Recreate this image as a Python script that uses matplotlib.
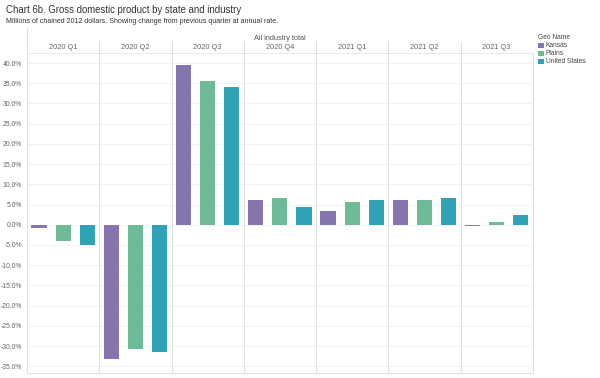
import matplotlib.pyplot as plt
import numpy as np

plt.rcParams['font.family'] = ['Liberation Sans', 'DejaVu Sans']

quarters = ["2020 Q1", "2020 Q2", "2020 Q3", "2020 Q4", "2021 Q1", "2021 Q2", "2021 Q3"]
geos = ["Kansas", "Plains", "United States"]
kansas = [-0.8, -33.2, 39.5, 6.1, 3.5, 6.0, -0.3]
plains = [-4.0, -30.8, 35.6, 6.7, 5.7, 6.1, 0.7]
us = [-5.1, -31.5, 34.1, 4.5, 6.2, 6.7, 2.3]
colors = ["#8475ae", "#6dba97", "#2fa2b4"]
yticks = list(range(-35, 41, 5))

fig = plt.figure(figsize=(6, 3.78), dpi=100)
ax = fig.add_axes([0.045, 0.013, 0.843, 0.847])

n = len(quarters)
x = np.arange(n)
offsets = [1/6, 1/2, 5/6]
for vals, off, c, g in zip([kansas, plains, us], offsets, colors, geos):
    ax.bar(x + off, vals, width=0.21, color=c, label=g, zorder=3)

ax.set_xlim(0, n)
ax.set_ylim(-36.7, 42.5)
ax.set_yticks(yticks)
ax.set_yticklabels([f"{t:.1f}%" for t in yticks], fontsize=4.9, color="#666666")
ax.set_xticks([])
ax.tick_params(axis='y', length=0, pad=3.5)
ax.grid(axis='y', color="#f0f0f0", linewidth=0.6, zorder=0)
for i in range(1, n):
    ax.axvline(i, color="#e0e0e0", linewidth=0.7, zorder=1)
ax.spines["top"].set_visible(False)
for s in ["left", "bottom", "right"]:
    ax.spines[s].set_color("#e0e0e0")
    ax.spines[s].set_linewidth(0.7)

# header band
xt = ax.get_xaxis_transform()
for i in range(n):
    ax.text(i + 0.5, 1.016, quarters[i], transform=xt,
            ha="center", va="center", fontsize=5.3, color="#666666")
for i in range(1, n):
    ax.plot([i, i], [1.0, 1.033], transform=xt,
            color="#e0e0e0", linewidth=0.7, clip_on=False)
ax.plot([0, n], [1.0, 1.0], transform=xt,
        color="#e8e8e8", linewidth=0.7, clip_on=False)
ax.plot([0, 0], [1.0, 1.078], transform=xt,
        color="#dddddd", linewidth=0.7, clip_on=False)
ax.text(n / 2, 1.044, "All industry total", transform=xt,
        ha="center", va="center", fontsize=5.3, color="#555555")

fig.text(0.01, 0.973, "Chart 6b. Gross domestic product by state and industry",
         fontsize=6.9, color="#333333", va="center")
fig.text(0.01, 0.943, "Millions of chained 2012 dollars. Showing change from previous quarter at annual rate.",
         fontsize=5.0, color="#333333", va="center")

# legend
fig.text(0.896, 0.902, "Geo Name", fontsize=4.8, color="#444444", va="center")
for j, (g, c) in enumerate(zip(geos, colors)):
    yy = 0.880 - j * 0.0212
    fig.patches.append(plt.Rectangle((0.897, yy - 0.0075), 0.0095, 0.015,
                                     transform=fig.transFigure, facecolor=c,
                                     linewidth=0))
    fig.text(0.91, yy, g, fontsize=4.8, color="#444444", va="center")

fig.savefig("out.png", dpi=100)
